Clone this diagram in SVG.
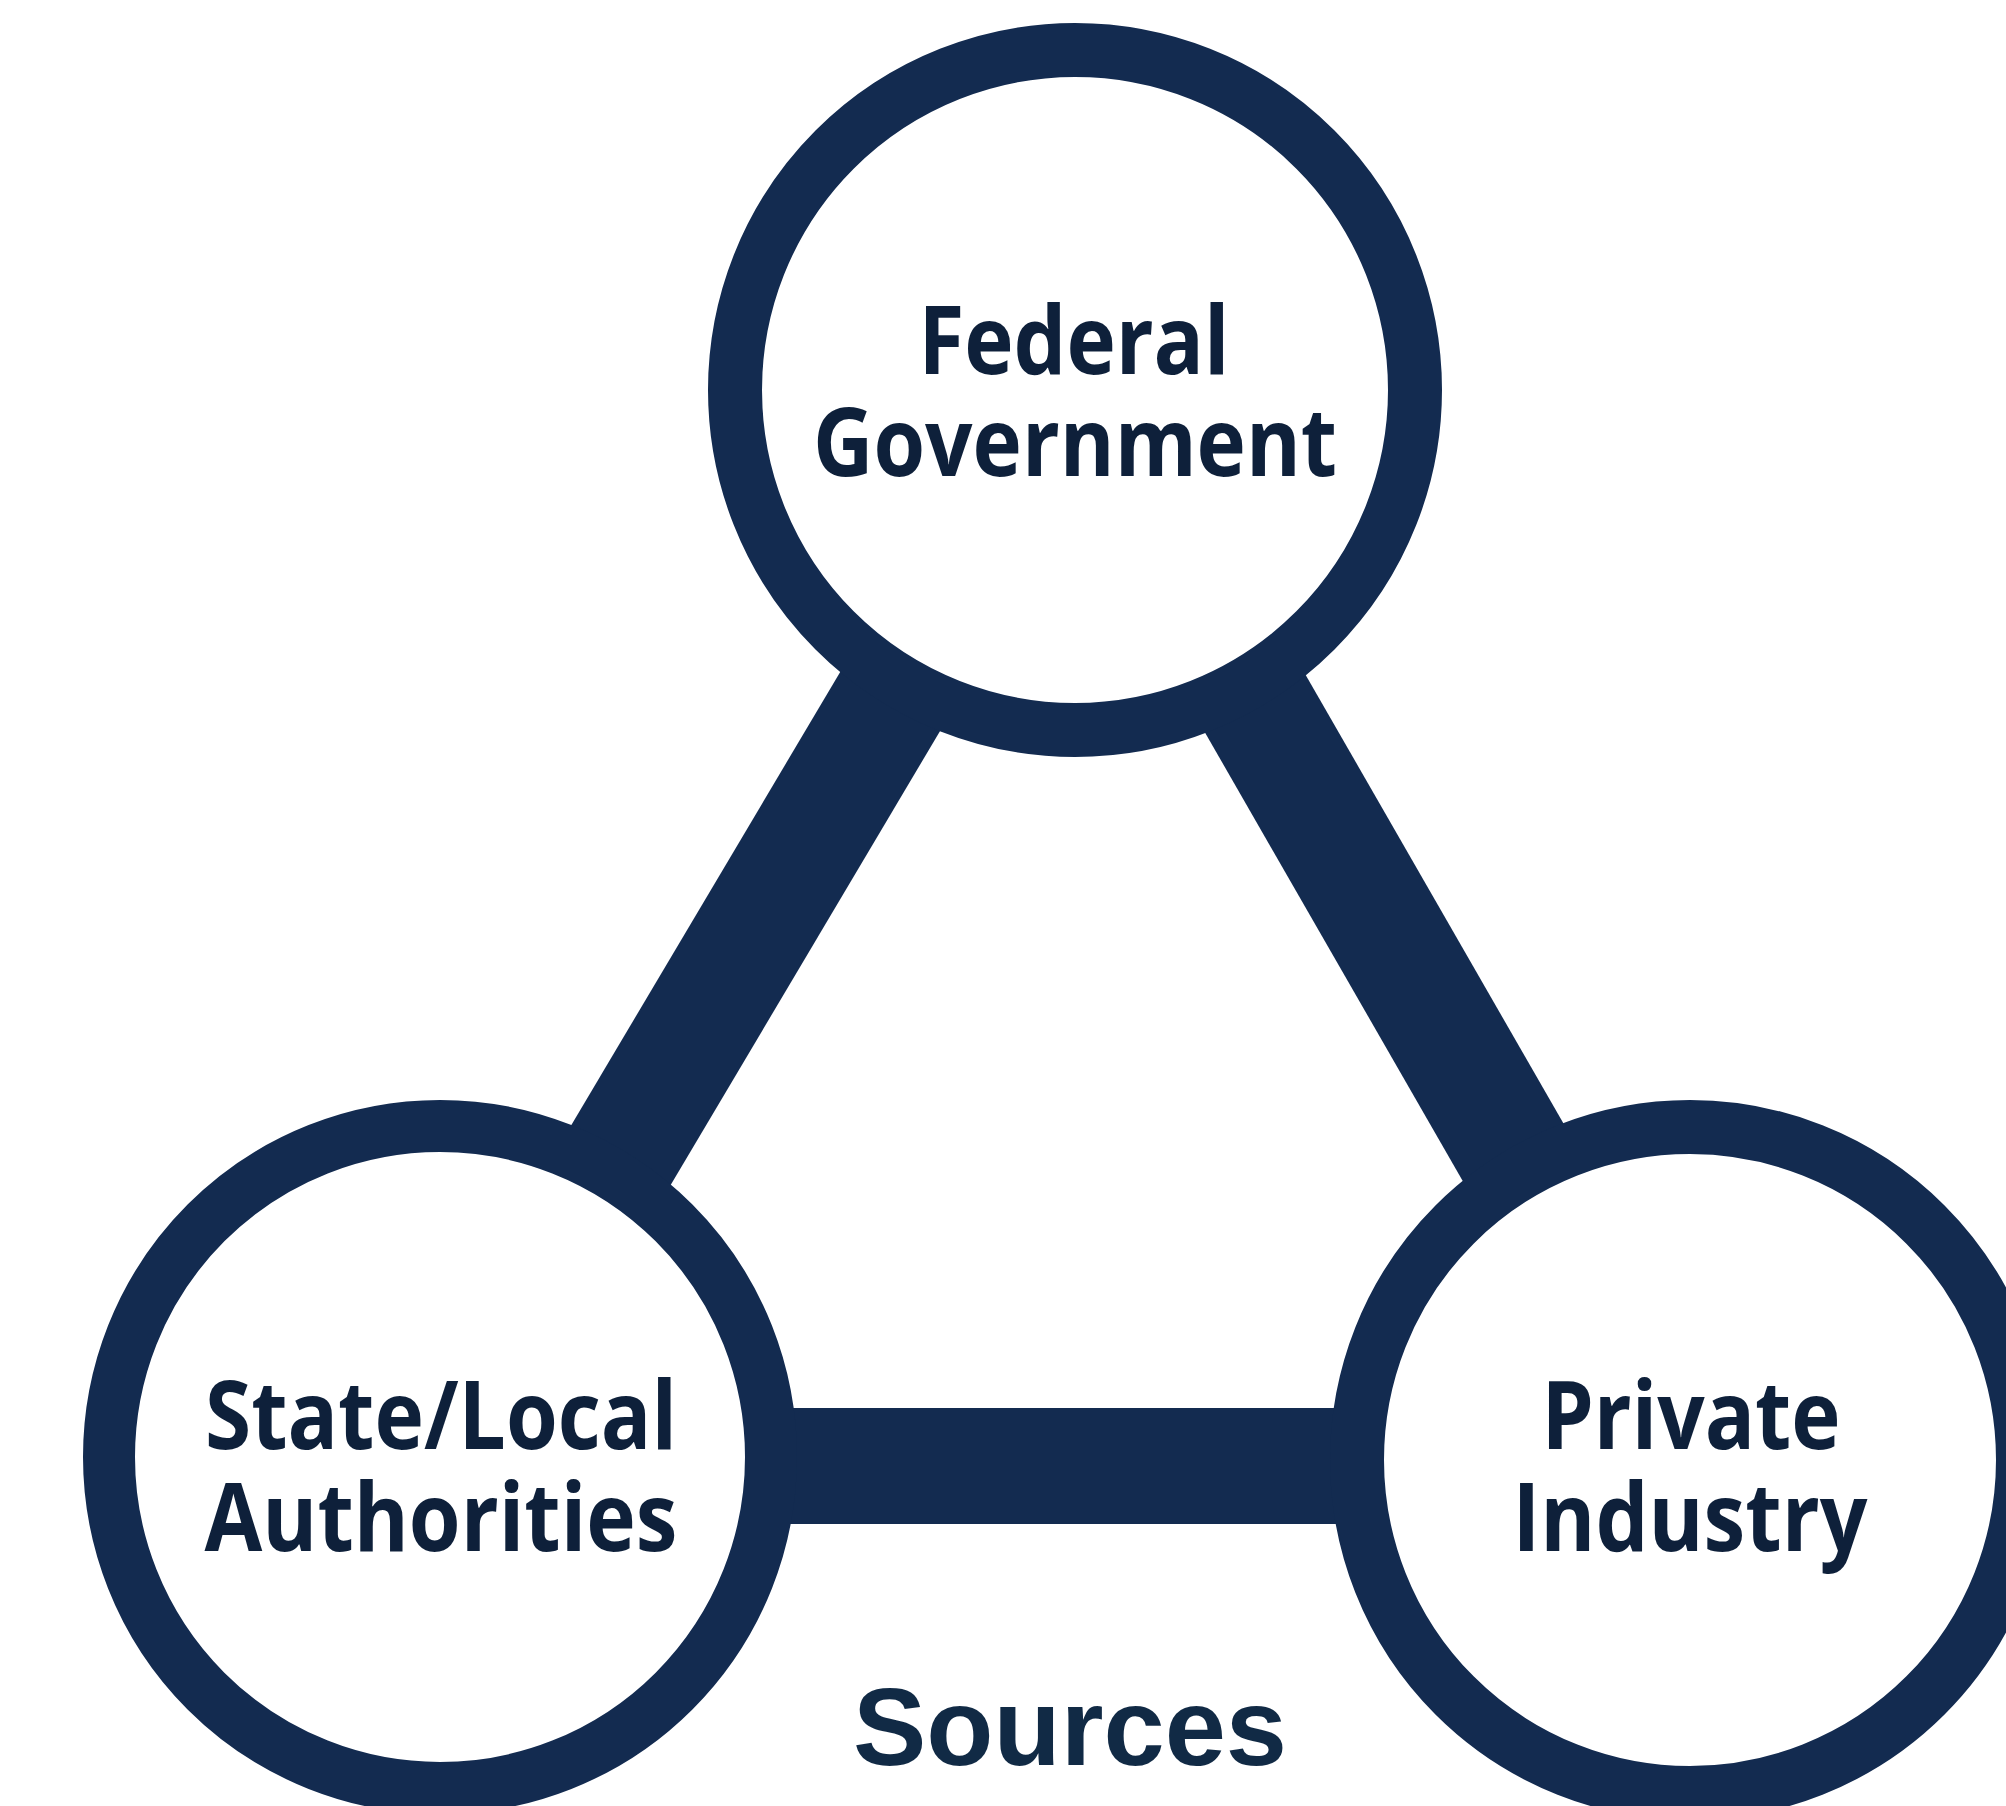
<svg xmlns="http://www.w3.org/2000/svg" width="2006" height="1806" viewBox="0 0 2006 1806">
  <style>
    .bar { stroke: #132b50; stroke-width: 116; stroke-linecap: butt; fill: none; }
    .ring { fill: #ffffff; stroke: #132b50; stroke-width: 54; }
    .label { font-family: "Open Sans", "Noto Sans", "Liberation Sans", sans-serif; font-weight: 700; font-size: 95px; fill: #0e203a; text-anchor: middle; }
    .title { font-family: "Liberation Sans", Arial, sans-serif; font-weight: 700; font-size: 110px; fill: #112a45; text-anchor: middle; }
  </style>
  <rect width="2006" height="1806" fill="#ffffff"/>
  <g id="connectors">
    <line class="bar" x1="1075" y1="390" x2="440" y2="1460"/>
    <line class="bar" x1="1075" y1="390" x2="1690" y2="1460"/>
    <line class="bar" x1="440" y1="1466" x2="1690" y2="1466"/>
  </g>
  <g id="node-federal">
    <circle class="ring" cx="1075" cy="390" r="340"/>
    <text class="label" x="1074" y="374" textLength="311" lengthAdjust="spacingAndGlyphs">Federal</text>
    <text class="label" x="1075" y="476" textLength="524" lengthAdjust="spacingAndGlyphs">Government</text>
  </g>
  <g id="node-state">
    <circle class="ring" cx="440" cy="1457" r="331" style="stroke-width:52"/>
    <text class="label" x="441" y="1449" textLength="472" lengthAdjust="spacingAndGlyphs">State/Local</text>
    <text class="label" x="441" y="1551" textLength="473" lengthAdjust="spacingAndGlyphs">Authorities</text>
  </g>
  <g id="node-private">
    <circle class="ring" cx="1690" cy="1460" r="333"/>
    <text class="label" x="1691" y="1449" textLength="299" lengthAdjust="spacingAndGlyphs">Private</text>
    <text class="label" x="1690" y="1551" textLength="355" lengthAdjust="spacingAndGlyphs">Industry</text>
  </g>
  <g id="caption">
    <text class="title" x="1070" y="1765">Sources</text>
  </g>
</svg>
